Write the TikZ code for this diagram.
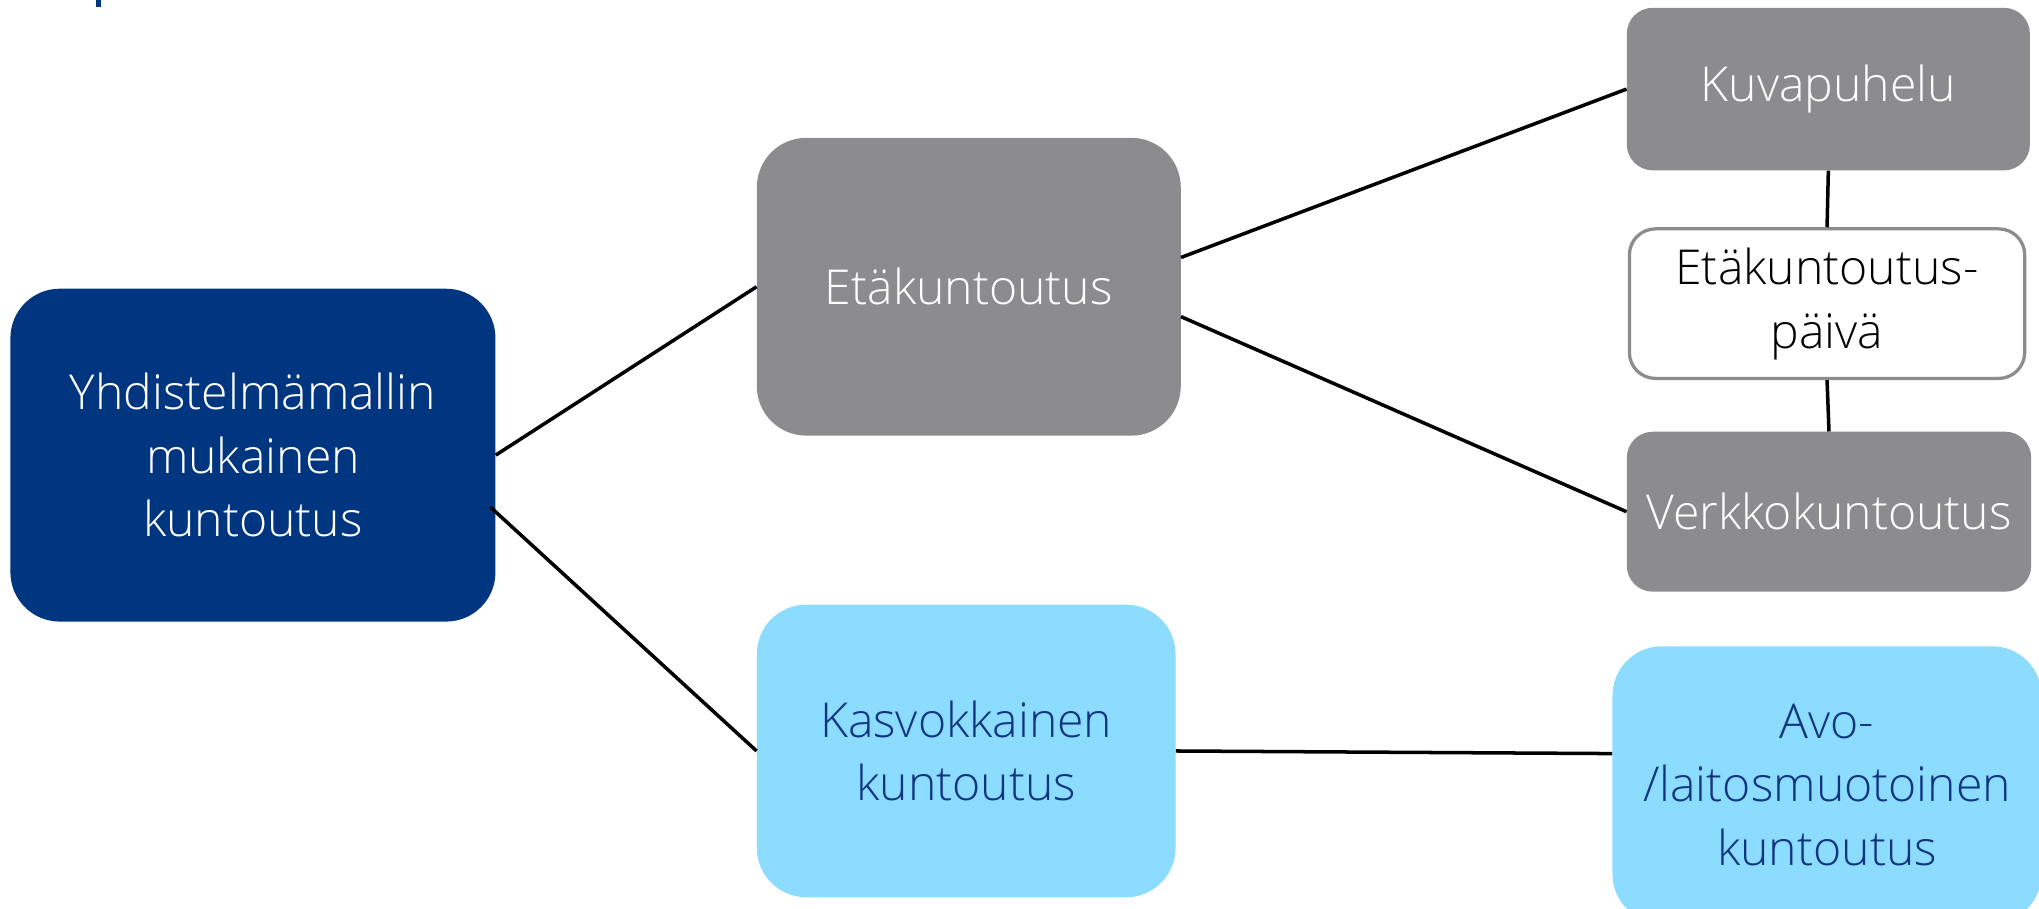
\documentclass[tikz,border=0pt]{standalone}
\usepackage{fontspec}
\setmainfont{Open Sans}[UprightFont=* Light]
\definecolor{dblue}{RGB}{0,54,128}
\definecolor{dgray}{RGB}{140,140,142}
\definecolor{lblue}{RGB}{139,220,254}
\definecolor{tblue}{RGB}{16,52,128}
\tikzset{
  box/.style={rounded corners=38pt, inner sep=0pt, align=center, font=\fontsize{37}{49}\selectfont},
  mainbox/.style={box, fill=dblue, text=white},
  graybox/.style={box, fill=dgray, text=white},
  lightbox/.style={box, fill=lblue, text=tblue},
  smallgray/.style={graybox, rounded corners=20pt},
  whitebox/.style={box, rounded corners=20pt, fill=white, draw=dgray, line width=2.5pt, text=black},
  link/.style={draw=black, line width=2.7pt}
}
\begin{document}
\begin{tikzpicture}[x=1pt,y=-1pt]
\useasboundingbox (0,0) rectangle (1568,699);
\clip (0,0) rectangle (1568,699);
\fill[dblue] (74,0) rectangle (78,5);
\node[mainbox, minimum width=373pt, minimum height=256pt] (main) at (194.5,350) {Yhdistelmämallin\\mukainen\\kuntoutus};
\node[graybox, minimum width=326pt, minimum height=229pt] (eta) at (745,220.5) {Etäkuntoutus};
\node[lightbox, minimum width=322pt, minimum height=225pt] (kasvo) at (743,577.5) {Kasvokkainen\\kuntoutus};
\node[smallgray, minimum width=310pt, minimum height=125pt] (kuva) at (1406,68.5) {Kuvapuhelu};
\node[whitebox, minimum width=304pt, minimum height=115pt] (paiva) at (1405,233.5) {Etäkuntoutus-\\päivä};
\node[smallgray, minimum width=311pt, minimum height=123pt] (verkko) at (1406.5,393.5) {Verkkokuntoutus};
\node[lightbox, minimum width=330pt, minimum height=213pt] (avo) at (1405,603.5) {Avo-\\/laitosmuotoinen\\kuntoutus};
\draw[link] (main.east) -- (eta.west);
\draw[link] ([yshift=-40pt,xshift=-4pt]main.east) -- (kasvo.west);
\draw[link] ([yshift=22.5pt]eta.east) -- (kuva.west);
\draw[link] ([yshift=-23pt]eta.east) -- (verkko.west);
\draw[link] (kuva.south) -- (paiva.north);
\draw[link] (paiva.south) -- (verkko.north);
\draw[link] (kasvo.east) -- ([yshift=24pt]avo.west);
\end{tikzpicture}
\end{document}
